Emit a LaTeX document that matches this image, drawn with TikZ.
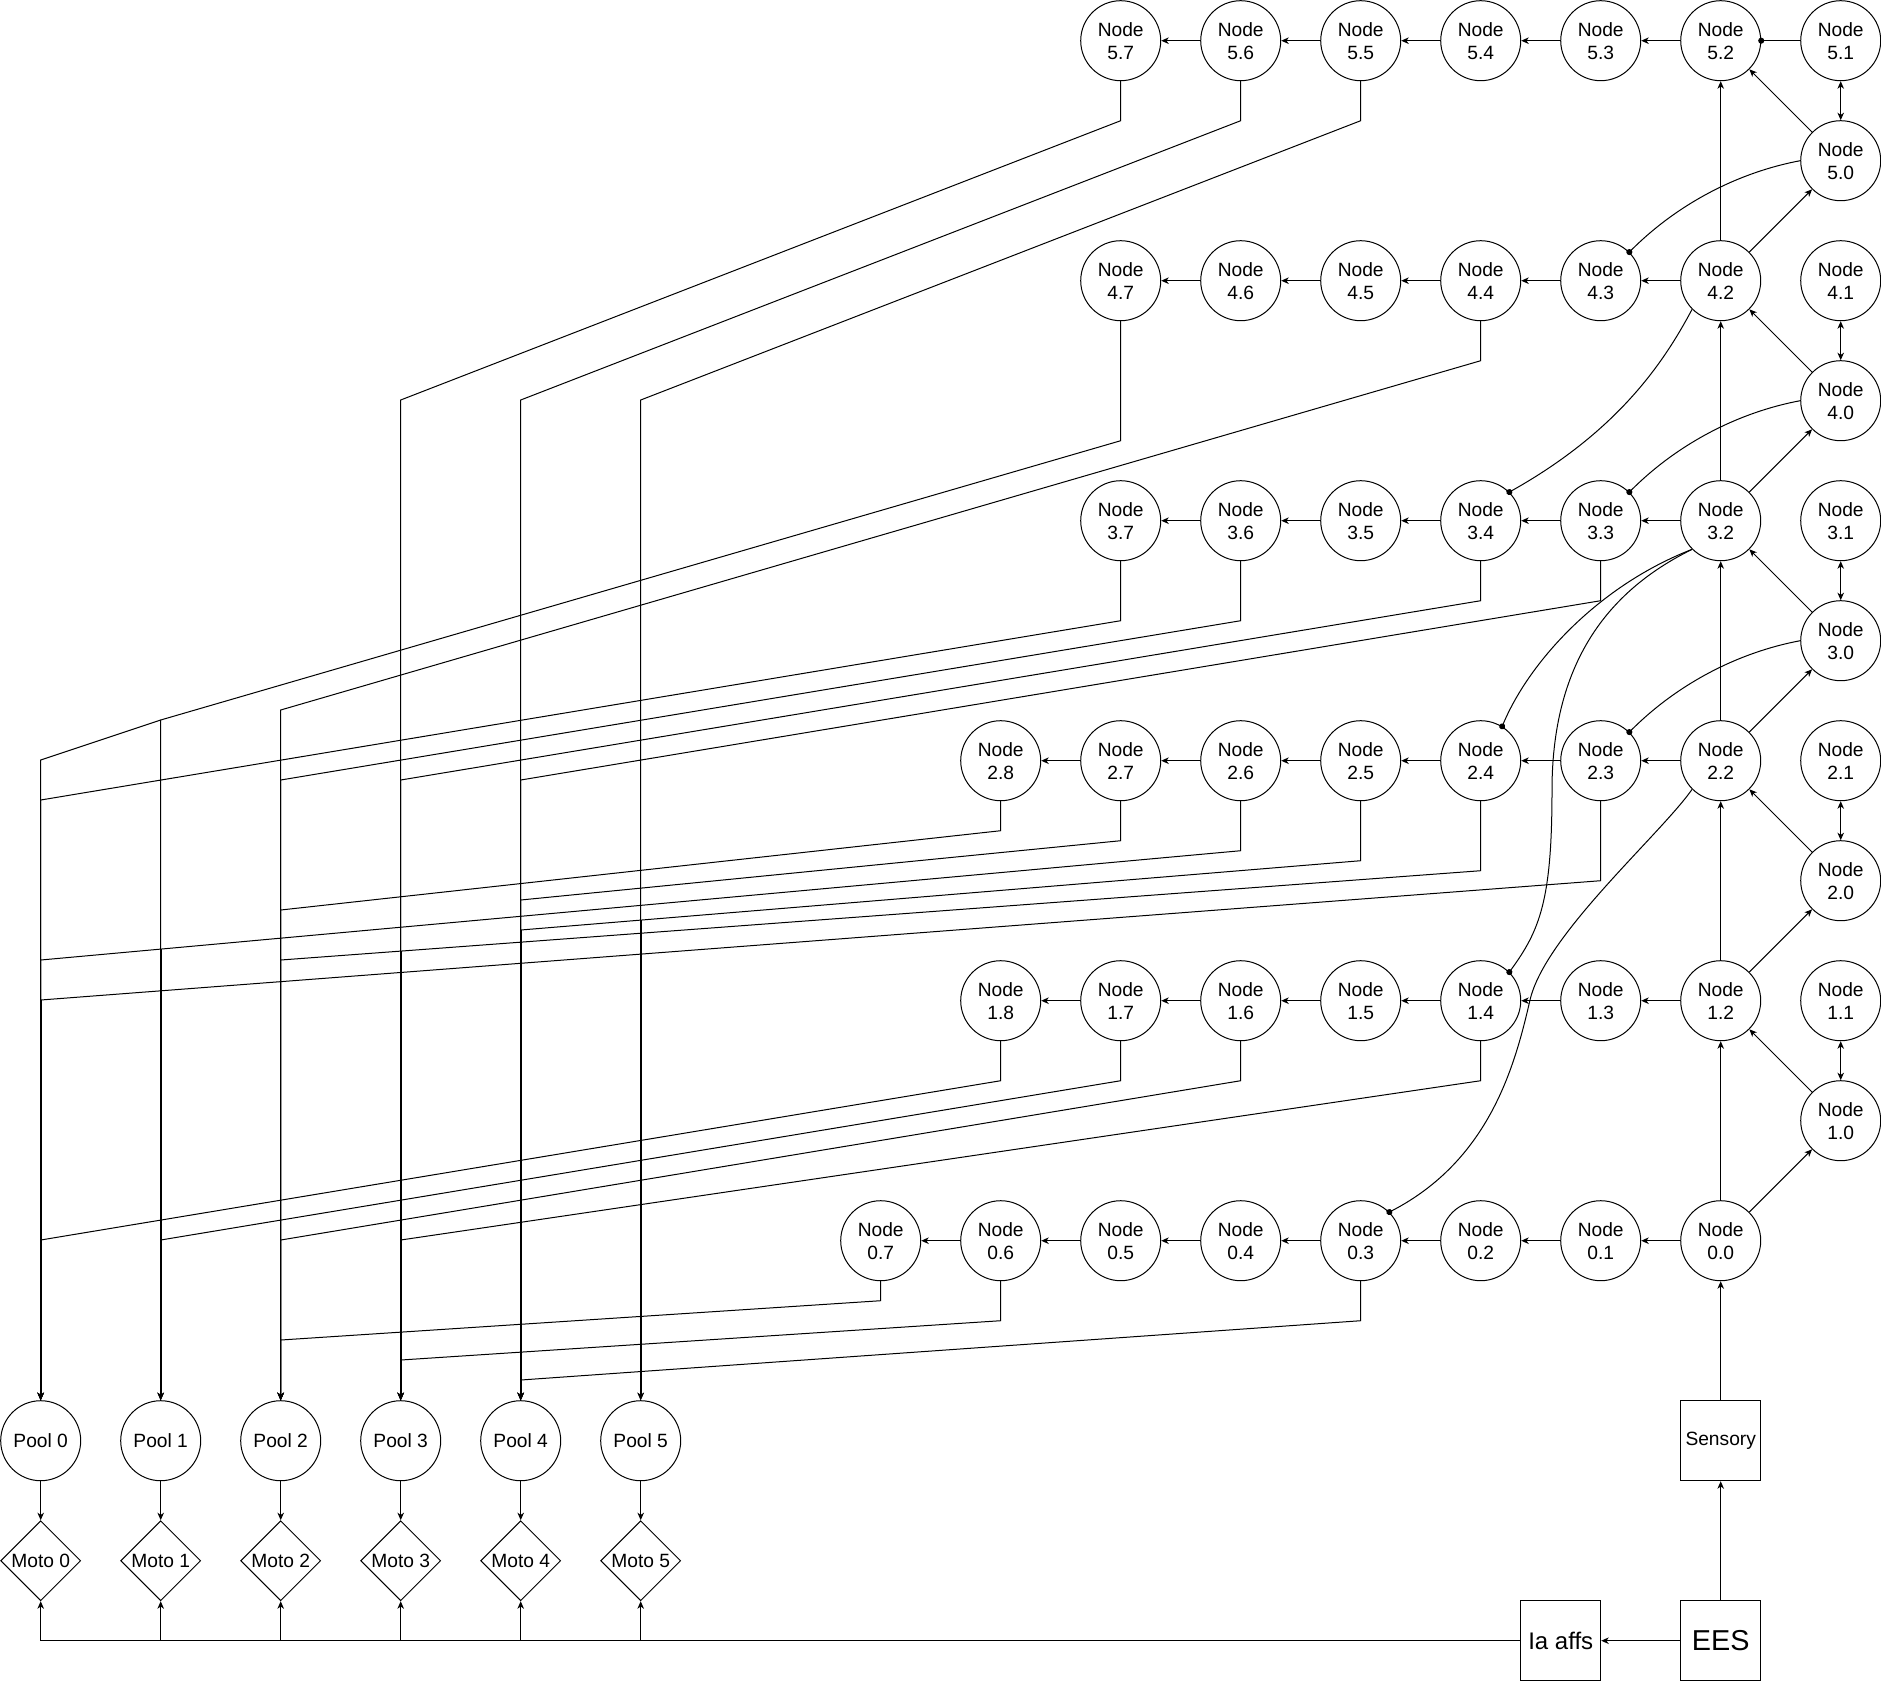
\documentclass[tikz,border=0pt]{standalone}
\usepackage{fontspec}
\setmainfont{Liberation Sans}
\usetikzlibrary{arrows.meta,shapes.geometric}
\newcommand\lblfont{\fontsize{19.2}{23}\selectfont}
\tikzset{
  conn/.style={line width=1pt, draw=black},
  arr/.style={conn, -{Stealth[length=7.5pt,width=6.5pt,inset=2.2pt]}},
  dblarr/.style={conn, {Stealth[length=7.5pt,width=6.5pt,inset=2.2pt]}-{Stealth[length=7.5pt,width=6.5pt,inset=2.2pt]}},
  dotc/.style={conn, -{Circle[length=6pt]}, shorten >=-3pt},
  thickcol/.style={line width=2pt},
  circ/.style={circle, draw, line width=1pt, minimum size=80pt, inner sep=0pt, align=center, font=\lblfont},
  boxn/.style={rectangle, draw, line width=1pt, minimum size=80pt, inner sep=0pt, align=center, font=\lblfont},
  dia/.style={diamond, draw, line width=1pt, minimum width=80pt, minimum height=80pt, inner sep=0pt, aspect=1, font=\lblfont},
}
\begin{document}
\begin{tikzpicture}[x=1pt,y=-1pt]
\useasboundingbox (0,0) rectangle (1881,1681);

% ---------- nodes of rows 5..1 ----------
\foreach \k/\m in {5/7,4/7,3/7,2/8,1/8} {
  \foreach \j in {1,...,\m} {
    \node[circ] (n\k\j) at ({40.7+120*(16-\j)},{40.7+240*(5-\k)}) {Node\\\k.\j};
  }
  \node[circ] (n\k0) at (1840.7,{160.7+240*(5-\k)}) {Node\\\k.0};
}
% row 0
\foreach \j in {0,...,7} {
  \node[circ] (n0\j) at ({40.7+120*(14-\j)},1240.7) {Node\\0.\j};
}
% pools, motos
\foreach \i in {0,...,5} {
  \node[circ] (p\i) at ({40.7+120*\i},1440.7) {Pool \i};
  \node[dia] (m\i) at ({40.7+120*\i},1560.7) {Moto \i};
  \coordinate (b\i) at ({40.7+120*\i},1640.7);
}
\node[boxn] (sens) at (1720.7,1440.7) {Sensory};
\node[boxn, font=\fontsize{28.8}{34}\selectfont] (ees) at (1720.7,1640.7) {EES};
\node[boxn, font=\fontsize{24}{29}\selectfont] (ia) at (1560.7,1640.7) {Ia affs};

% ---------- chains ----------
\foreach \k/\mm in {5/6,4/6,3/6,2/7,1/7} {
  \foreach \j [evaluate=\j as \jn using {int(\j+1)}] in {2,...,\mm} {
    \draw[arr] (n\k\j.west) -- (n\k\jn.east);
  }
  \draw[dblarr] (n\k1.south) -- (n\k0.north);
  \draw[arr] (n\k0.135) -- (n\k2.-45);
}
\foreach \j [evaluate=\j as \jn using {int(\j+1)}] in {0,...,6} {
  \draw[arr] (n0\j.west) -- (n0\jn.east);
}

% ---------- right column structure ----------
\draw[arr] (n42.north) -- (n52.south);
\draw[arr] (n42.45) -- (n50.-135);
\draw[arr] (n32.north) -- (n42.south);
\draw[arr] (n32.45) -- (n40.-135);
\draw[arr] (n22.north) -- (n32.south);
\draw[arr] (n22.45) -- (n30.-135);
\draw[arr] (n12.north) -- (n22.south);
\draw[arr] (n12.45) -- (n20.-135);
\draw[arr] (n00.north) -- (n12.south);
\draw[arr] (n00.45) -- (n10.-135);

\draw[dotc] (n51.west) -- (n52.east);

% ---------- curved connectors with dot ends ----------
\draw[dotc] (n50.west) .. controls (1740,172) and (1679,202.4) .. (n43.45);
\draw[dotc] (n40.west) .. controls (1740,412) and (1679,442.4) .. (n33.45);
\draw[dotc] (n30.west) .. controls (1740,652) and (1679,682.4) .. (n23.45);
\draw[dotc] (n42.-135) .. controls (1665,360) and (1620,430) .. (n34.45);
\draw[dotc] (n32.-135) .. controls (1600,585) and (1530,660) .. (n24.58);
\draw[dotc] (n32.-135) .. controls (1620,585) and (1552,650) .. (1552,790)
                       .. controls (1552,900) and (1540,930) .. (n14.45);
\draw[dotc] (n22.-135) .. controls (1660,835) and (1545,935) .. (1530,1000)
                       .. controls (1515,1065) and (1490,1160) .. (n03.45);

% ---------- long connectors to pools ----------
% row 5
\draw[arr] (n57.south) -- (1120.7,120.7) -- (400.7,400) -- (p3.north);
\draw[arr] (n56.south) -- (1240.7,120.7) -- (520.7,400) -- (p4.north);
\draw[arr] (n55.south) -- (1360.7,120.7) -- (640.7,400) -- (p5.north);
% row 4
\draw[arr] (n47.south) -- (1120.7,440.7) -- (160.7,720) coordinate (k47) -- (p1.north);
\draw[arr] (k47) -- (40.7,760) -- (p0.north);
\draw[arr] (n44.south) -- (1480.7,360.7) -- (280.7,710) -- (p2.north);
% row 3
\draw[arr] (n37.south) -- (1120.7,620.7) -- (40.7,800) -- (p0.north);
\draw[arr] (n36.south) -- (1240.7,620.7) -- (280.7,780) -- (p2.north);
\draw[arr] (n34.south) -- (1480.7,600.7) -- (400.7,780) -- (p3.north);
\draw[arr] (n33.south) -- (1600.7,600.7) -- (520.7,780) -- (p4.north);
% row 2
\draw[arr] (n28.south) -- (1000.7,830.7) -- (280.7,910) -- (p2.north);
\draw[arr] (n27.south) -- (1120.7,840.7) -- (520.7,900) -- (p4.north);
\draw[arr] (n26.south) -- (1240.7,850.7) -- (160.7,949.1) coordinate (k26) -- (40.7,960) -- (p0.north);
\draw[conn] (n25.south) -- (1360.7,860.7) -- (640.7,920.1) coordinate (k25b) -- (520.7,930) coordinate (k25);
\draw[arr,thickcol] (k25) -- (p4.north);
\draw[arr] (n24.south) -- (1480.7,870.7) -- (400.7,951.1) coordinate (k24) -- (280.7,960) -- (p2.north);
\draw[conn] (n23.south) -- (1600.7,880.7) -- (40.7,1000) coordinate (k23);
\draw[arr,thickcol] (k23) -- (p0.north);
\draw[arr,thickcol] (k26) -- (p1.north);
\draw[arr,thickcol] (k24) -- (p3.north);
\draw[arr,thickcol] (k25b) -- (p5.north);
% row 1
\draw[arr] (n18.south) -- (1000.7,1080.7) -- (40.7,1240) -- (p0.north);
\draw[arr] (n17.south) -- (1120.7,1080.7) -- (160.7,1240) -- (p1.north);
\draw[arr] (n16.south) -- (1240.7,1080.7) -- (280.7,1240) -- (p2.north);
\draw[arr] (n14.south) -- (1480.7,1080.7) -- (400.7,1240) -- (p3.north);
% row 0
\draw[arr] (n07.south) -- (880.7,1300.7) -- (280.7,1340) -- (p2.north);
\draw[arr] (n06.south) -- (1000.7,1320.7) -- (400.7,1360) -- (p3.north);
\draw[arr] (n03.south) -- (1360.7,1320.7) -- (520.7,1380) -- (p4.north);

% ---------- bottom ----------
\foreach \i in {0,...,5} {
  \draw[arr] (p\i.south) -- (m\i.north);
  \draw[arr] (b\i) -- (m\i.south);
}
\draw[conn] (ia.west) -- (b0);
\draw[arr] (sens.north) -- (n00.south);
\draw[arr] (ees.north) -- (sens.south);
\draw[arr] (ees.west) -- (ia.east);
\end{tikzpicture}
\end{document}
